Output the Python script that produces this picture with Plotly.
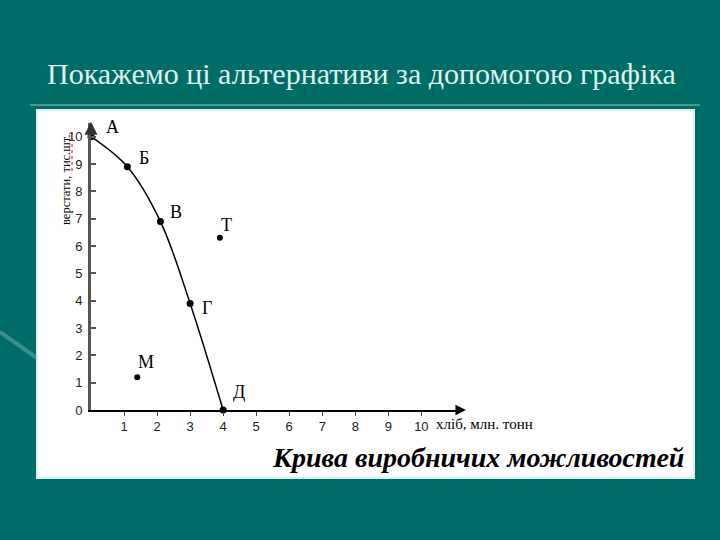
import plotly.graph_objects as go

# ---- data ----
curve_labels = ["А", "Б", "В", "Г", "Д"]
curve_x = [0.0, 1.1, 2.1, 3.0, 4.0]
curve_y = [10.0, 8.9, 6.9, 3.9, 0.0]

other_labels = ["Т", "М"]
other_x = [3.9, 1.4]
other_y = [6.3, 1.2]

x_ticks = [1, 2, 3, 4, 5, 6, 7, 8, 9, 10]
y_ticks = [0, 1, 2, 3, 4, 5, 6, 7, 8, 9, 10]

title_text = "Покажемо ці альтернативи за допомогою графіка"
y_title = "верстати, тис.шт."
x_title = "хліб, млн. тонн"
chart_caption = "Крива виробничих можливостей"

# ---- layout geometry (pixels) ----
W, H = 720, 540
L, R, T, B = 91, 259, 123, 130
PW, PH = W - L - R, H - T - B


def px(x):
    return (x - L) / PW


def py(y):
    return (H - B - y) / PH


label_offsets = {
    "А": (21, 10), "Б": (17, 9), "В": (16, 9), "Г": (17, -5), "Д": (16, 18),
    "Т": (7, 13), "М": (9, 15),
}

TEAL = "rgb(0,108,104)"
SERIF = "Liberation Serif"

fig = go.Figure()

fig.add_trace(go.Scatter(
    x=curve_x, y=curve_y, mode="lines+markers",
    line=dict(color="black", width=1.5, shape="spline", smoothing=1.0),
    marker=dict(color="black", size=7),
    cliponaxis=False, hoverinfo="skip", showlegend=False,
))
fig.add_trace(go.Scatter(
    x=other_x, y=other_y, mode="markers",
    marker=dict(color="black", size=6),
    cliponaxis=False, hoverinfo="skip", showlegend=False,
))

annotations = []
for lab, xv, yv in list(zip(curve_labels, curve_x, curve_y)) + list(zip(other_labels, other_x, other_y)):
    dx, dy = label_offsets[lab]
    annotations.append(dict(
        x=xv, y=yv, xref="x", yref="y", text=lab, showarrow=False,
        xanchor="center", yanchor="middle",
        xshift=dx, yshift=dy, font=dict(family=SERIF, size=18, color="black"),
    ))

# axis arrows
annotations.append(dict(x=0, y=10.55, ax=0, ay=10.2, xref="x", yref="y", axref="x", ayref="y",
                        text="", showarrow=True, arrowhead=2, arrowsize=1.3, arrowwidth=2,
                        arrowcolor="#333"))
annotations.append(dict(x=11.35, y=0, ax=11.0, ay=0, xref="x", yref="y", axref="x", ayref="y",
                        text="", showarrow=True, arrowhead=2, arrowsize=1.4, arrowwidth=1.5,
                        arrowcolor="black"))

# titles
annotations.append(dict(x=px(361), y=py(73), xref="paper", yref="paper", text=title_text,
                        xanchor="center", yanchor="middle",
                        showarrow=False, font=dict(family=SERIF, size=30, color="#DDF3F0")))
annotations.append(dict(x=px(66), y=py(180), xref="paper", yref="paper", text=y_title,
                        xanchor="center", yanchor="middle",
                        textangle=-90, showarrow=False,
                        font=dict(family=SERIF, size=12.5, color="black")))
annotations.append(dict(x=px(434), y=py(424), xref="paper", yref="paper", text=x_title,
                        xanchor="left", yanchor="middle", showarrow=False,
                        font=dict(family=SERIF, size=15, color="black")))
annotations.append(dict(x=px(478), y=py(457), xref="paper", yref="paper",
                        text="<b><i>" + chart_caption + "</i></b>",
                        xanchor="center", yanchor="middle",
                        showarrow=False, font=dict(family=SERIF, size=28, color="black")))

shapes = [
    # white panel
    dict(type="rect", xref="paper", yref="paper", x0=px(37), x1=px(694), y0=py(478), y1=py(110),
         fillcolor="white", line=dict(color="#d6f0ef", width=2), layer="below"),
    # line under title
    dict(type="line", xref="paper", yref="paper", x0=px(30), x1=px(700), y0=py(105), y1=py(105),
         line=dict(color="rgba(120,180,175,0.6)", width=2), layer="below"),
    # faint decorative streak
    dict(type="line", xref="paper", yref="paper", x0=px(0), x1=px(37), y0=py(332), y1=py(358),
         line=dict(color="rgba(160,210,205,0.35)", width=4), layer="below"),
    # spell-check squiggle
    dict(type="line", xref="paper", yref="paper", x0=px(72), x1=px(72), y0=py(132), y1=py(172),
         line=dict(color="red", width=1, dash="dot"), layer="above"),
]

fig.update_layout(
    width=W, height=H,
    margin=dict(l=L, r=R, t=T, b=B, pad=0),
    paper_bgcolor=TEAL, plot_bgcolor="rgba(0,0,0,0)",
    annotations=annotations, shapes=shapes, showlegend=False,
    xaxis=dict(range=[0, 11.2], tickvals=x_ticks, ticktext=[str(v) for v in x_ticks],
               showgrid=False, zeroline=False, showline=True, linecolor="black", linewidth=1.5,
               ticks="outside", ticklen=4, tickwidth=1, tickcolor="#444",
               tickfont=dict(family="Liberation Sans", size=13, color="#222"), fixedrange=True),
    yaxis=dict(range=[0, 10.5], tickvals=y_ticks, ticktext=[str(v) for v in y_ticks],
               showgrid=False, zeroline=False, showline=True, linecolor="#555", linewidth=3,
               ticks="inside", ticklen=5, tickwidth=1.5, tickcolor="#555",
               ticklabelstandoff=3,
               tickfont=dict(family="Liberation Sans", size=13, color="#222"), fixedrange=True),
)

fig.write_html(
    "out.html",
    config={"displayModeBar": False},
    post_script="document.body.style.margin='0';document.body.style.background='" + TEAL + "';",
)
